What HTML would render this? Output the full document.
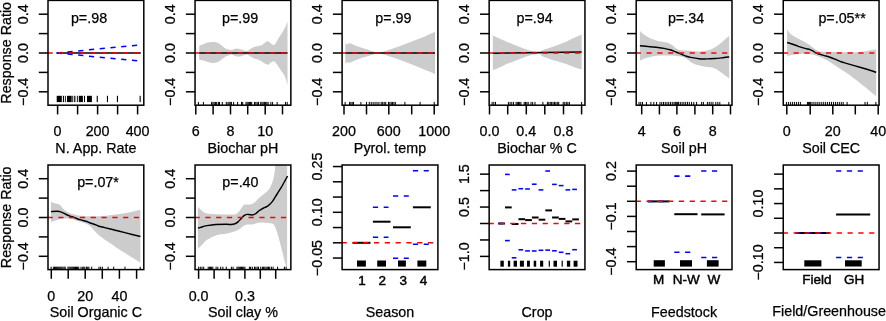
<!DOCTYPE html>
<html><head><meta charset="utf-8"><style>
html,body{margin:0;padding:0;background:#fff;overflow:hidden}
svg{display:block}
text{font-family:"Liberation Sans",sans-serif;fill:#000;stroke:#000;stroke-width:0.25px}
</style></head><body>
<svg width="886" height="321" viewBox="0 0 886 321" style="will-change:transform">
<rect width="886" height="321" fill="#fff"/>
<line x1="38.8" y1="14.2" x2="48" y2="14.2" stroke="#000" stroke-width="1.5" stroke-linecap="butt"/>
<line x1="38.8" y1="33.6" x2="48" y2="33.6" stroke="#000" stroke-width="1.5" stroke-linecap="butt"/>
<line x1="38.8" y1="53" x2="48" y2="53" stroke="#000" stroke-width="1.5" stroke-linecap="butt"/>
<line x1="38.8" y1="72.4" x2="48" y2="72.4" stroke="#000" stroke-width="1.5" stroke-linecap="butt"/>
<line x1="38.8" y1="91.8" x2="48" y2="91.8" stroke="#000" stroke-width="1.5" stroke-linecap="butt"/>
<text transform="translate(28.2,14.2) rotate(-90)" text-anchor="middle" font-size="14.3">0.4</text>
<text transform="translate(28.2,53) rotate(-90)" text-anchor="middle" font-size="14.3">0.0</text>
<text transform="translate(28.2,91.8) rotate(-90)" text-anchor="middle" font-size="14.3">−0.4</text>
<line x1="57.6" y1="105.2" x2="57.6" y2="114.4" stroke="#000" stroke-width="1.5" stroke-linecap="butt"/>
<line x1="77.6" y1="105.2" x2="77.6" y2="114.4" stroke="#000" stroke-width="1.5" stroke-linecap="butt"/>
<line x1="97.6" y1="105.2" x2="97.6" y2="114.4" stroke="#000" stroke-width="1.5" stroke-linecap="butt"/>
<line x1="117.6" y1="105.2" x2="117.6" y2="114.4" stroke="#000" stroke-width="1.5" stroke-linecap="butt"/>
<line x1="137.6" y1="105.2" x2="137.6" y2="114.4" stroke="#000" stroke-width="1.5" stroke-linecap="butt"/>
<text x="57.6" y="136.1" text-anchor="middle" font-size="14.3">0</text>
<text x="97.6" y="136.1" text-anchor="middle" font-size="14.3">200</text>
<text x="137.6" y="136.1" text-anchor="middle" font-size="14.3">400</text>
<text x="95.9" y="153" text-anchor="middle" font-size="14.3">N. App. Rate</text>
<line x1="56.7" y1="53" x2="140.8" y2="53" stroke="#000" stroke-width="1.45" stroke-linecap="butt"/>
<line x1="56.7" y1="53" x2="140.8" y2="44.8" stroke="#0000ff" stroke-width="1.5" stroke-linecap="butt" stroke-dasharray="5.2 5.6"/>
<line x1="56.7" y1="53" x2="140.8" y2="61.2" stroke="#0000ff" stroke-width="1.5" stroke-linecap="butt" stroke-dasharray="5.2 5.6"/>
<rect x="56.7" y="95.8" width="5.1" height="6.3" fill="#000"/>
<rect x="62.9" y="95.8" width="1.1" height="6.3" fill="#000"/>
<rect x="64.9" y="95.8" width="0.9" height="6.3" fill="#000"/>
<rect x="67" y="95.8" width="4.7" height="6.3" fill="#000"/>
<rect x="72.3" y="95.8" width="0.9" height="6.3" fill="#000"/>
<rect x="74.2" y="95.8" width="1.2" height="6.3" fill="#000"/>
<rect x="76.9" y="95.8" width="0.9" height="6.3" fill="#000"/>
<rect x="78.8" y="95.8" width="4.1" height="6.3" fill="#000"/>
<rect x="84" y="95.8" width="1" height="6.3" fill="#000"/>
<rect x="87" y="95.8" width="4.9" height="6.3" fill="#000"/>
<rect x="96.7" y="95.8" width="1.1" height="6.3" fill="#000"/>
<rect x="106.9" y="95.8" width="1.1" height="6.3" fill="#000"/>
<rect x="116.9" y="95.8" width="1.1" height="6.3" fill="#000"/>
<rect x="139.6" y="95.8" width="1.1" height="6.3" fill="#000"/>
<line x1="47.5" y1="53" x2="143.8" y2="53" stroke="#ff0000" stroke-width="1.6" stroke-linecap="butt" stroke-dasharray="5.2 5.6"/>
<text x="89" y="22.7" text-anchor="middle" font-size="14.3">p=.98</text>
<rect x="48" y="0.4" width="95.8" height="104.8" fill="none" stroke="#000" stroke-width="1.5"/>
<path d="M199.2,45.7 C199.83,45.45 201.7,44.7 203,44.2 C204.3,43.7 205.5,43.07 207,42.7 C208.5,42.33 210.5,42.07 212,42 C213.5,41.93 214.83,42.05 216,42.3 C217.17,42.55 218,42.93 219,43.5 C220,44.07 221,44.92 222,45.7 C223,46.48 224,47.55 225,48.2 C226,48.85 227,49.28 228,49.6 C229,49.92 230,50.15 231,50.1 C232,50.05 233.08,49.57 234,49.3 C234.92,49.03 235.67,48.57 236.5,48.5 C237.33,48.43 238.18,48.72 239,48.9 C239.82,49.08 240.57,49.33 241.4,49.6 C242.23,49.87 243.05,50.27 244,50.5 C244.95,50.73 246.05,51.27 247.1,51 C248.15,50.73 249.22,49.52 250.3,48.9 C251.38,48.28 252.65,47.68 253.6,47.3 C254.55,46.92 255.1,46.87 256,46.6 C256.9,46.33 258,45.97 259,45.7 C260,45.43 261.17,45.37 262,45 C262.83,44.63 263.33,44.05 264,43.5 C264.67,42.95 265.33,42.08 266,41.7 C266.67,41.32 267.33,41.03 268,41.2 C268.67,41.37 269.27,42.13 270,42.7 C270.73,43.27 271.73,44.22 272.4,44.6 C273.07,44.98 273.4,45.32 274,45 C274.6,44.68 275.33,43.7 276,42.7 C276.67,41.7 277.33,40.12 278,39 C278.67,37.88 279.33,37 280,36 C280.67,35 281.33,34.08 282,33 C282.67,31.92 283.33,30.75 284,29.5 C284.67,28.25 285.42,26.83 286,25.5 C286.58,24.17 287.25,22.17 287.5,21.5 L287.5,85.5 C287.25,84.5 286.58,81.28 286,79.5 C285.42,77.72 284.83,76.32 284,74.8 C283.17,73.28 282,71.88 281,70.4 C280,68.92 279,67.28 278,65.9 C277,64.52 275.83,62.85 275,62.1 C274.17,61.35 273.83,61.22 273,61.4 C272.17,61.58 270.83,62.65 270,63.2 C269.17,63.75 268.67,64.55 268,64.7 C267.33,64.85 267,64.65 266,64.1 C265,63.55 263.17,62.1 262,61.4 C260.83,60.7 260,60.28 259,59.9 C258,59.52 256.9,59.38 256,59.1 C255.1,58.82 254.55,58.62 253.6,58.2 C252.65,57.78 251.38,57.2 250.3,56.6 C249.22,56 248.15,54.82 247.1,54.6 C246.05,54.38 244.95,55.03 244,55.3 C243.05,55.57 242.23,56 241.4,56.2 C240.57,56.4 239.82,56.43 239,56.5 C238.18,56.57 237.33,56.75 236.5,56.6 C235.67,56.45 234.92,55.93 234,55.6 C233.08,55.27 232,54.57 231,54.6 C230,54.63 229,55.42 228,55.8 C227,56.18 226,56.35 225,56.9 C224,57.45 223,58.35 222,59.1 C221,59.85 220,60.82 219,61.4 C218,61.98 217.17,62.35 216,62.6 C214.83,62.85 213.5,63.03 212,62.9 C210.5,62.77 208.5,62.18 207,61.8 C205.5,61.42 204.3,60.97 203,60.6 C201.7,60.23 199.83,59.77 199.2,59.6 Z" fill="#cccccc"/>
<line x1="185.85" y1="14.2" x2="195.05" y2="14.2" stroke="#000" stroke-width="1.5" stroke-linecap="butt"/>
<line x1="185.85" y1="33.6" x2="195.05" y2="33.6" stroke="#000" stroke-width="1.5" stroke-linecap="butt"/>
<line x1="185.85" y1="53" x2="195.05" y2="53" stroke="#000" stroke-width="1.5" stroke-linecap="butt"/>
<line x1="185.85" y1="72.4" x2="195.05" y2="72.4" stroke="#000" stroke-width="1.5" stroke-linecap="butt"/>
<line x1="185.85" y1="91.8" x2="195.05" y2="91.8" stroke="#000" stroke-width="1.5" stroke-linecap="butt"/>
<text transform="translate(175.25,14.2) rotate(-90)" text-anchor="middle" font-size="14.3">0.4</text>
<text transform="translate(175.25,53) rotate(-90)" text-anchor="middle" font-size="14.3">0.0</text>
<text transform="translate(175.25,91.8) rotate(-90)" text-anchor="middle" font-size="14.3">−0.4</text>
<line x1="195.8" y1="105.2" x2="195.8" y2="114.4" stroke="#000" stroke-width="1.5" stroke-linecap="butt"/>
<line x1="213.1" y1="105.2" x2="213.1" y2="114.4" stroke="#000" stroke-width="1.5" stroke-linecap="butt"/>
<line x1="230.5" y1="105.2" x2="230.5" y2="114.4" stroke="#000" stroke-width="1.5" stroke-linecap="butt"/>
<line x1="247.7" y1="105.2" x2="247.7" y2="114.4" stroke="#000" stroke-width="1.5" stroke-linecap="butt"/>
<line x1="265.2" y1="105.2" x2="265.2" y2="114.4" stroke="#000" stroke-width="1.5" stroke-linecap="butt"/>
<line x1="282.5" y1="105.2" x2="282.5" y2="114.4" stroke="#000" stroke-width="1.5" stroke-linecap="butt"/>
<text x="195.8" y="136.1" text-anchor="middle" font-size="14.3">6</text>
<text x="230.5" y="136.1" text-anchor="middle" font-size="14.3">8</text>
<text x="265.2" y="136.1" text-anchor="middle" font-size="14.3">10</text>
<text x="242.95" y="153" text-anchor="middle" font-size="14.3">Biochar pH</text>
<line x1="199.2" y1="53" x2="287.5" y2="53" stroke="#000" stroke-width="1.45" stroke-linecap="butt"/>
<line x1="198.4" y1="101.9" x2="198.4" y2="105.2" stroke="#000" stroke-width="1.0" stroke-linecap="butt"/>
<line x1="203.4" y1="101.9" x2="203.4" y2="105.2" stroke="#000" stroke-width="1.0" stroke-linecap="butt"/>
<line x1="211.6" y1="101.9" x2="211.6" y2="105.2" stroke="#000" stroke-width="1.0" stroke-linecap="butt"/>
<line x1="212.88" y1="101.9" x2="212.88" y2="105.2" stroke="#000" stroke-width="1.0" stroke-linecap="butt"/>
<line x1="214.15" y1="101.9" x2="214.15" y2="105.2" stroke="#000" stroke-width="1.0" stroke-linecap="butt"/>
<line x1="215.42" y1="101.9" x2="215.42" y2="105.2" stroke="#000" stroke-width="1.0" stroke-linecap="butt"/>
<line x1="216.7" y1="101.9" x2="216.7" y2="105.2" stroke="#000" stroke-width="1.0" stroke-linecap="butt"/>
<line x1="218.4" y1="101.9" x2="218.4" y2="105.2" stroke="#000" stroke-width="1.0" stroke-linecap="butt"/>
<line x1="219.5" y1="101.9" x2="219.5" y2="105.2" stroke="#000" stroke-width="1.0" stroke-linecap="butt"/>
<line x1="222.3" y1="101.9" x2="222.3" y2="105.2" stroke="#000" stroke-width="1.0" stroke-linecap="butt"/>
<line x1="226.3" y1="101.9" x2="226.3" y2="105.2" stroke="#000" stroke-width="1.0" stroke-linecap="butt"/>
<line x1="228" y1="101.9" x2="228" y2="105.2" stroke="#000" stroke-width="1.0" stroke-linecap="butt"/>
<line x1="229.13" y1="101.9" x2="229.13" y2="105.2" stroke="#000" stroke-width="1.0" stroke-linecap="butt"/>
<line x1="230.27" y1="101.9" x2="230.27" y2="105.2" stroke="#000" stroke-width="1.0" stroke-linecap="butt"/>
<line x1="231.4" y1="101.9" x2="231.4" y2="105.2" stroke="#000" stroke-width="1.0" stroke-linecap="butt"/>
<line x1="233.6" y1="101.9" x2="233.6" y2="105.2" stroke="#000" stroke-width="1.0" stroke-linecap="butt"/>
<line x1="237.6" y1="101.9" x2="237.6" y2="105.2" stroke="#000" stroke-width="1.0" stroke-linecap="butt"/>
<line x1="241.5" y1="101.9" x2="241.5" y2="105.2" stroke="#000" stroke-width="1.0" stroke-linecap="butt"/>
<line x1="242.7" y1="101.9" x2="242.7" y2="105.2" stroke="#000" stroke-width="1.0" stroke-linecap="butt"/>
<line x1="246" y1="101.9" x2="246" y2="105.2" stroke="#000" stroke-width="1.0" stroke-linecap="butt"/>
<line x1="247.14" y1="101.9" x2="247.14" y2="105.2" stroke="#000" stroke-width="1.0" stroke-linecap="butt"/>
<line x1="248.28" y1="101.9" x2="248.28" y2="105.2" stroke="#000" stroke-width="1.0" stroke-linecap="butt"/>
<line x1="249.42" y1="101.9" x2="249.42" y2="105.2" stroke="#000" stroke-width="1.0" stroke-linecap="butt"/>
<line x1="250.56" y1="101.9" x2="250.56" y2="105.2" stroke="#000" stroke-width="1.0" stroke-linecap="butt"/>
<line x1="251.7" y1="101.9" x2="251.7" y2="105.2" stroke="#000" stroke-width="1.0" stroke-linecap="butt"/>
<line x1="254.5" y1="101.9" x2="254.5" y2="105.2" stroke="#000" stroke-width="1.0" stroke-linecap="butt"/>
<line x1="255.83" y1="101.9" x2="255.83" y2="105.2" stroke="#000" stroke-width="1.0" stroke-linecap="butt"/>
<line x1="257.17" y1="101.9" x2="257.17" y2="105.2" stroke="#000" stroke-width="1.0" stroke-linecap="butt"/>
<line x1="258.5" y1="101.9" x2="258.5" y2="105.2" stroke="#000" stroke-width="1.0" stroke-linecap="butt"/>
<line x1="260.7" y1="101.9" x2="260.7" y2="105.2" stroke="#000" stroke-width="1.0" stroke-linecap="butt"/>
<line x1="261.93" y1="101.9" x2="261.93" y2="105.2" stroke="#000" stroke-width="1.0" stroke-linecap="butt"/>
<line x1="263.17" y1="101.9" x2="263.17" y2="105.2" stroke="#000" stroke-width="1.0" stroke-linecap="butt"/>
<line x1="264.4" y1="101.9" x2="264.4" y2="105.2" stroke="#000" stroke-width="1.0" stroke-linecap="butt"/>
<line x1="265.63" y1="101.9" x2="265.63" y2="105.2" stroke="#000" stroke-width="1.0" stroke-linecap="butt"/>
<line x1="266.87" y1="101.9" x2="266.87" y2="105.2" stroke="#000" stroke-width="1.0" stroke-linecap="butt"/>
<line x1="268.1" y1="101.9" x2="268.1" y2="105.2" stroke="#000" stroke-width="1.0" stroke-linecap="butt"/>
<line x1="270.9" y1="101.9" x2="270.9" y2="105.2" stroke="#000" stroke-width="1.0" stroke-linecap="butt"/>
<line x1="272.6" y1="101.9" x2="272.6" y2="105.2" stroke="#000" stroke-width="1.0" stroke-linecap="butt"/>
<line x1="277.1" y1="101.9" x2="277.1" y2="105.2" stroke="#000" stroke-width="1.0" stroke-linecap="butt"/>
<line x1="285.5" y1="101.9" x2="285.5" y2="105.2" stroke="#000" stroke-width="1.0" stroke-linecap="butt"/>
<line x1="287.2" y1="101.9" x2="287.2" y2="105.2" stroke="#000" stroke-width="1.0" stroke-linecap="butt"/>
<line x1="194.55" y1="53" x2="290.85" y2="53" stroke="#ff0000" stroke-width="1.6" stroke-linecap="butt" stroke-dasharray="5.2 5.6"/>
<text x="240.05" y="22.7" text-anchor="middle" font-size="14.3">p=.99</text>
<rect x="195.05" y="0.4" width="95.8" height="104.8" fill="none" stroke="#000" stroke-width="1.5"/>
<path d="M345.3,41.9 C345.53,42.33 345.95,44.27 346.7,44.5 C347.45,44.73 348.42,43.15 349.8,43.3 C351.18,43.45 352.97,44.65 355,45.4 C357.03,46.15 359.5,46.97 362,47.8 C364.5,48.63 367.67,49.67 370,50.4 C372.33,51.13 374.53,51.82 376,52.2 C377.47,52.58 377.8,52.72 378.8,52.7 C379.8,52.68 380.13,52.62 382,52.1 C383.87,51.58 387,50.62 390,49.6 C393,48.58 396.67,47.22 400,46 C403.33,44.78 406.67,43.58 410,42.3 C413.33,41.02 417,39.53 420,38.3 C423,37.07 425.5,36 428,34.9 C430.5,33.8 433.83,32.23 435,31.7 L435,74.2 C433.83,73.68 430.5,72.18 428,71.1 C425.5,70.02 423,68.93 420,67.7 C417,66.47 413.33,64.98 410,63.7 C406.67,62.42 403.33,61.2 400,60 C396.67,58.8 393,57.52 390,56.5 C387,55.48 383.87,54.45 382,53.9 C380.13,53.35 379.8,53.23 378.8,53.2 C377.8,53.17 377.47,53.33 376,53.7 C374.53,54.07 372.33,54.72 370,55.4 C367.67,56.08 364.5,56.93 362,57.8 C359.5,58.67 357.03,59.77 355,60.6 C352.97,61.43 351.18,62.53 349.8,62.8 C348.42,63.07 347.45,61.93 346.7,62.2 C345.95,62.47 345.53,64.03 345.3,64.4 Z" fill="#cccccc"/>
<line x1="332.9" y1="14.2" x2="342.1" y2="14.2" stroke="#000" stroke-width="1.5" stroke-linecap="butt"/>
<line x1="332.9" y1="33.6" x2="342.1" y2="33.6" stroke="#000" stroke-width="1.5" stroke-linecap="butt"/>
<line x1="332.9" y1="53" x2="342.1" y2="53" stroke="#000" stroke-width="1.5" stroke-linecap="butt"/>
<line x1="332.9" y1="72.4" x2="342.1" y2="72.4" stroke="#000" stroke-width="1.5" stroke-linecap="butt"/>
<line x1="332.9" y1="91.8" x2="342.1" y2="91.8" stroke="#000" stroke-width="1.5" stroke-linecap="butt"/>
<text transform="translate(322.3,14.2) rotate(-90)" text-anchor="middle" font-size="14.3">0.4</text>
<text transform="translate(322.3,53) rotate(-90)" text-anchor="middle" font-size="14.3">0.0</text>
<text transform="translate(322.3,91.8) rotate(-90)" text-anchor="middle" font-size="14.3">−0.4</text>
<line x1="344" y1="105.2" x2="344" y2="114.4" stroke="#000" stroke-width="1.5" stroke-linecap="butt"/>
<line x1="366.5" y1="105.2" x2="366.5" y2="114.4" stroke="#000" stroke-width="1.5" stroke-linecap="butt"/>
<line x1="388.8" y1="105.2" x2="388.8" y2="114.4" stroke="#000" stroke-width="1.5" stroke-linecap="butt"/>
<line x1="411.7" y1="105.2" x2="411.7" y2="114.4" stroke="#000" stroke-width="1.5" stroke-linecap="butt"/>
<line x1="434.2" y1="105.2" x2="434.2" y2="114.4" stroke="#000" stroke-width="1.5" stroke-linecap="butt"/>
<text x="344" y="136.1" text-anchor="middle" font-size="14.3">200</text>
<text x="388.8" y="136.1" text-anchor="middle" font-size="14.3">600</text>
<text x="434.2" y="136.1" text-anchor="middle" font-size="14.3">1000</text>
<text x="390" y="153" text-anchor="middle" font-size="14.3">Pyrol. temp</text>
<line x1="345.4" y1="53" x2="435" y2="53" stroke="#000" stroke-width="1.45" stroke-linecap="butt"/>
<line x1="345.1" y1="101.9" x2="345.1" y2="105.2" stroke="#000" stroke-width="1.0" stroke-linecap="butt"/>
<line x1="349.6" y1="101.9" x2="349.6" y2="105.2" stroke="#000" stroke-width="1.0" stroke-linecap="butt"/>
<line x1="350.9" y1="101.9" x2="350.9" y2="105.2" stroke="#000" stroke-width="1.0" stroke-linecap="butt"/>
<line x1="352.2" y1="101.9" x2="352.2" y2="105.2" stroke="#000" stroke-width="1.0" stroke-linecap="butt"/>
<line x1="353.5" y1="101.9" x2="353.5" y2="105.2" stroke="#000" stroke-width="1.0" stroke-linecap="butt"/>
<line x1="360.9" y1="101.9" x2="360.9" y2="105.2" stroke="#000" stroke-width="1.0" stroke-linecap="butt"/>
<line x1="366.5" y1="101.9" x2="366.5" y2="105.2" stroke="#000" stroke-width="1.0" stroke-linecap="butt"/>
<line x1="369.3" y1="101.9" x2="369.3" y2="105.2" stroke="#000" stroke-width="1.0" stroke-linecap="butt"/>
<line x1="371.22" y1="101.9" x2="371.22" y2="105.2" stroke="#000" stroke-width="1.0" stroke-linecap="butt"/>
<line x1="373.14" y1="101.9" x2="373.14" y2="105.2" stroke="#000" stroke-width="1.0" stroke-linecap="butt"/>
<line x1="375.06" y1="101.9" x2="375.06" y2="105.2" stroke="#000" stroke-width="1.0" stroke-linecap="butt"/>
<line x1="376.98" y1="101.9" x2="376.98" y2="105.2" stroke="#000" stroke-width="1.0" stroke-linecap="butt"/>
<line x1="378.9" y1="101.9" x2="378.9" y2="105.2" stroke="#000" stroke-width="1.0" stroke-linecap="butt"/>
<line x1="381.2" y1="101.9" x2="381.2" y2="105.2" stroke="#000" stroke-width="1.0" stroke-linecap="butt"/>
<line x1="382.7" y1="101.9" x2="382.7" y2="105.2" stroke="#000" stroke-width="1.0" stroke-linecap="butt"/>
<line x1="384.2" y1="101.9" x2="384.2" y2="105.2" stroke="#000" stroke-width="1.0" stroke-linecap="butt"/>
<line x1="385.7" y1="101.9" x2="385.7" y2="105.2" stroke="#000" stroke-width="1.0" stroke-linecap="butt"/>
<line x1="388.5" y1="101.9" x2="388.5" y2="105.2" stroke="#000" stroke-width="1.0" stroke-linecap="butt"/>
<line x1="389.86" y1="101.9" x2="389.86" y2="105.2" stroke="#000" stroke-width="1.0" stroke-linecap="butt"/>
<line x1="391.22" y1="101.9" x2="391.22" y2="105.2" stroke="#000" stroke-width="1.0" stroke-linecap="butt"/>
<line x1="392.58" y1="101.9" x2="392.58" y2="105.2" stroke="#000" stroke-width="1.0" stroke-linecap="butt"/>
<line x1="393.94" y1="101.9" x2="393.94" y2="105.2" stroke="#000" stroke-width="1.0" stroke-linecap="butt"/>
<line x1="395.3" y1="101.9" x2="395.3" y2="105.2" stroke="#000" stroke-width="1.0" stroke-linecap="butt"/>
<line x1="404.9" y1="101.9" x2="404.9" y2="105.2" stroke="#000" stroke-width="1.0" stroke-linecap="butt"/>
<line x1="420.1" y1="101.9" x2="420.1" y2="105.2" stroke="#000" stroke-width="1.0" stroke-linecap="butt"/>
<line x1="434.2" y1="101.9" x2="434.2" y2="105.2" stroke="#000" stroke-width="1.0" stroke-linecap="butt"/>
<line x1="341.6" y1="53" x2="437.9" y2="53" stroke="#ff0000" stroke-width="1.6" stroke-linecap="butt" stroke-dasharray="5.2 5.6"/>
<text x="393.45" y="22.7" text-anchor="middle" font-size="14.3">p=.99</text>
<rect x="342.1" y="0.4" width="95.8" height="104.8" fill="none" stroke="#000" stroke-width="1.5"/>
<path d="M492.8,35.5 C493.63,35.87 495.67,36.75 497.8,37.7 C499.93,38.65 503,40.08 505.6,41.2 C508.2,42.32 510.8,43.35 513.4,44.4 C516,45.45 518.62,46.52 521.2,47.5 C523.78,48.48 526.32,49.6 528.9,50.3 C531.48,51 534.85,51.42 536.7,51.7 C538.55,51.98 538.98,52.28 540,52 C541.02,51.72 541.03,50.75 542.8,50 C544.57,49.25 548,48.37 550.6,47.5 C553.2,46.63 555.8,45.77 558.4,44.8 C561,43.83 563.62,42.82 566.2,41.7 C568.78,40.58 571.32,39.3 573.9,38.1 C576.48,36.9 580.4,35.1 581.7,34.5 L581.7,69.3 C580.4,68.9 576.48,67.77 573.9,66.9 C571.32,66.03 568.78,65 566.2,64.1 C563.62,63.2 561,62.32 558.4,61.5 C555.8,60.68 553.2,60.02 550.6,59.2 C548,58.38 544.57,57.47 542.8,56.6 C541.03,55.73 541.02,54.4 540,54 C538.98,53.6 538.55,53.92 536.7,54.2 C534.85,54.48 531.48,55 528.9,55.7 C526.32,56.4 523.78,57.43 521.2,58.4 C518.62,59.37 516,60.47 513.4,61.5 C510.8,62.53 508.2,63.48 505.6,64.6 C503,65.72 499.93,67.28 497.8,68.2 C495.67,69.12 493.63,69.78 492.8,70.1 Z" fill="#cccccc"/>
<line x1="479.95" y1="14.2" x2="489.15" y2="14.2" stroke="#000" stroke-width="1.5" stroke-linecap="butt"/>
<line x1="479.95" y1="33.6" x2="489.15" y2="33.6" stroke="#000" stroke-width="1.5" stroke-linecap="butt"/>
<line x1="479.95" y1="53" x2="489.15" y2="53" stroke="#000" stroke-width="1.5" stroke-linecap="butt"/>
<line x1="479.95" y1="72.4" x2="489.15" y2="72.4" stroke="#000" stroke-width="1.5" stroke-linecap="butt"/>
<line x1="479.95" y1="91.8" x2="489.15" y2="91.8" stroke="#000" stroke-width="1.5" stroke-linecap="butt"/>
<text transform="translate(469.35,14.2) rotate(-90)" text-anchor="middle" font-size="14.3">0.4</text>
<text transform="translate(469.35,53) rotate(-90)" text-anchor="middle" font-size="14.3">0.0</text>
<text transform="translate(469.35,91.8) rotate(-90)" text-anchor="middle" font-size="14.3">−0.4</text>
<line x1="489.5" y1="105.2" x2="489.5" y2="114.4" stroke="#000" stroke-width="1.5" stroke-linecap="butt"/>
<line x1="507.7" y1="105.2" x2="507.7" y2="114.4" stroke="#000" stroke-width="1.5" stroke-linecap="butt"/>
<line x1="526.3" y1="105.2" x2="526.3" y2="114.4" stroke="#000" stroke-width="1.5" stroke-linecap="butt"/>
<line x1="544.8" y1="105.2" x2="544.8" y2="114.4" stroke="#000" stroke-width="1.5" stroke-linecap="butt"/>
<line x1="563.5" y1="105.2" x2="563.5" y2="114.4" stroke="#000" stroke-width="1.5" stroke-linecap="butt"/>
<line x1="581.6" y1="105.2" x2="581.6" y2="114.4" stroke="#000" stroke-width="1.5" stroke-linecap="butt"/>
<text x="489.5" y="136.1" text-anchor="middle" font-size="14.3">0.0</text>
<text x="526.3" y="136.1" text-anchor="middle" font-size="14.3">0.4</text>
<text x="563.5" y="136.1" text-anchor="middle" font-size="14.3">0.8</text>
<text x="537.05" y="153" text-anchor="middle" font-size="14.3">Biochar % C</text>
<line x1="492.8" y1="53.2" x2="581.7" y2="52" stroke="#000" stroke-width="1.45" stroke-linecap="butt"/>
<line x1="492.1" y1="101.9" x2="492.1" y2="105.2" stroke="#000" stroke-width="1.0" stroke-linecap="butt"/>
<line x1="493.8" y1="101.9" x2="493.8" y2="105.2" stroke="#000" stroke-width="1.0" stroke-linecap="butt"/>
<line x1="495.5" y1="101.9" x2="495.5" y2="105.2" stroke="#000" stroke-width="1.0" stroke-linecap="butt"/>
<line x1="508.4" y1="101.9" x2="508.4" y2="105.2" stroke="#000" stroke-width="1.0" stroke-linecap="butt"/>
<line x1="510.1" y1="101.9" x2="510.1" y2="105.2" stroke="#000" stroke-width="1.0" stroke-linecap="butt"/>
<line x1="511.8" y1="101.9" x2="511.8" y2="105.2" stroke="#000" stroke-width="1.0" stroke-linecap="butt"/>
<line x1="513.5" y1="101.9" x2="513.5" y2="105.2" stroke="#000" stroke-width="1.0" stroke-linecap="butt"/>
<line x1="516.1" y1="101.9" x2="516.1" y2="105.2" stroke="#000" stroke-width="1.0" stroke-linecap="butt"/>
<line x1="517.3" y1="101.9" x2="517.3" y2="105.2" stroke="#000" stroke-width="1.0" stroke-linecap="butt"/>
<line x1="518.5" y1="101.9" x2="518.5" y2="105.2" stroke="#000" stroke-width="1.0" stroke-linecap="butt"/>
<line x1="519.7" y1="101.9" x2="519.7" y2="105.2" stroke="#000" stroke-width="1.0" stroke-linecap="butt"/>
<line x1="520.9" y1="101.9" x2="520.9" y2="105.2" stroke="#000" stroke-width="1.0" stroke-linecap="butt"/>
<line x1="524.2" y1="101.9" x2="524.2" y2="105.2" stroke="#000" stroke-width="1.0" stroke-linecap="butt"/>
<line x1="525.53" y1="101.9" x2="525.53" y2="105.2" stroke="#000" stroke-width="1.0" stroke-linecap="butt"/>
<line x1="526.87" y1="101.9" x2="526.87" y2="105.2" stroke="#000" stroke-width="1.0" stroke-linecap="butt"/>
<line x1="528.2" y1="101.9" x2="528.2" y2="105.2" stroke="#000" stroke-width="1.0" stroke-linecap="butt"/>
<line x1="531" y1="101.9" x2="531" y2="105.2" stroke="#000" stroke-width="1.0" stroke-linecap="butt"/>
<line x1="532.7" y1="101.9" x2="532.7" y2="105.2" stroke="#000" stroke-width="1.0" stroke-linecap="butt"/>
<line x1="535" y1="101.9" x2="535" y2="105.2" stroke="#000" stroke-width="1.0" stroke-linecap="butt"/>
<line x1="542.9" y1="101.9" x2="542.9" y2="105.2" stroke="#000" stroke-width="1.0" stroke-linecap="butt"/>
<line x1="547.4" y1="101.9" x2="547.4" y2="105.2" stroke="#000" stroke-width="1.0" stroke-linecap="butt"/>
<line x1="548.81" y1="101.9" x2="548.81" y2="105.2" stroke="#000" stroke-width="1.0" stroke-linecap="butt"/>
<line x1="550.23" y1="101.9" x2="550.23" y2="105.2" stroke="#000" stroke-width="1.0" stroke-linecap="butt"/>
<line x1="551.64" y1="101.9" x2="551.64" y2="105.2" stroke="#000" stroke-width="1.0" stroke-linecap="butt"/>
<line x1="553.05" y1="101.9" x2="553.05" y2="105.2" stroke="#000" stroke-width="1.0" stroke-linecap="butt"/>
<line x1="554.46" y1="101.9" x2="554.46" y2="105.2" stroke="#000" stroke-width="1.0" stroke-linecap="butt"/>
<line x1="555.88" y1="101.9" x2="555.88" y2="105.2" stroke="#000" stroke-width="1.0" stroke-linecap="butt"/>
<line x1="557.29" y1="101.9" x2="557.29" y2="105.2" stroke="#000" stroke-width="1.0" stroke-linecap="butt"/>
<line x1="558.7" y1="101.9" x2="558.7" y2="105.2" stroke="#000" stroke-width="1.0" stroke-linecap="butt"/>
<line x1="563.2" y1="101.9" x2="563.2" y2="105.2" stroke="#000" stroke-width="1.0" stroke-linecap="butt"/>
<line x1="564.75" y1="101.9" x2="564.75" y2="105.2" stroke="#000" stroke-width="1.0" stroke-linecap="butt"/>
<line x1="566.3" y1="101.9" x2="566.3" y2="105.2" stroke="#000" stroke-width="1.0" stroke-linecap="butt"/>
<line x1="567.85" y1="101.9" x2="567.85" y2="105.2" stroke="#000" stroke-width="1.0" stroke-linecap="butt"/>
<line x1="569.4" y1="101.9" x2="569.4" y2="105.2" stroke="#000" stroke-width="1.0" stroke-linecap="butt"/>
<line x1="581.6" y1="101.9" x2="581.6" y2="105.2" stroke="#000" stroke-width="1.0" stroke-linecap="butt"/>
<line x1="488.65" y1="53" x2="584.95" y2="53" stroke="#ff0000" stroke-width="1.6" stroke-linecap="butt" stroke-dasharray="5.2 5.6"/>
<text x="534.6" y="22.7" text-anchor="middle" font-size="14.3">p=.94</text>
<rect x="489.15" y="0.4" width="95.8" height="104.8" fill="none" stroke="#000" stroke-width="1.5"/>
<path d="M639.9,30.9 C640.65,31.55 642.72,33.57 644.4,34.8 C646.08,36.03 647.9,37.32 650,38.3 C652.1,39.28 654.67,40.07 657,40.7 C659.33,41.33 662.02,41.68 664,42.1 C665.98,42.52 667.5,42.67 668.9,43.2 C670.3,43.73 671.12,44.37 672.4,45.3 C673.68,46.23 675.2,47.98 676.6,48.8 C678,49.62 679.23,49.9 680.8,50.2 C682.37,50.5 683.92,50.43 686,50.6 C688.08,50.77 690.52,51.1 693.3,51.2 C696.08,51.3 699.58,51.58 702.7,51.2 C705.82,50.82 709.52,49.83 712,48.9 C714.48,47.97 715.72,46.93 717.6,45.6 C719.48,44.27 721.37,42.53 723.3,40.9 C725.23,39.27 728.22,36.65 729.2,35.8 L729.2,78.5 C728.22,77.75 725.23,75.43 723.3,74 C721.37,72.57 719.48,70.97 717.6,69.9 C715.72,68.83 714.48,68.2 712,67.6 C709.52,67 705.82,66.97 702.7,66.3 C699.58,65.63 696.08,64.9 693.3,63.6 C690.52,62.3 688.08,59.68 686,58.5 C683.92,57.32 683.07,57 680.8,56.5 C678.53,56 675.2,55.67 672.4,55.5 C669.6,55.33 666.57,55.45 664,55.5 C661.43,55.55 659.33,55.57 657,55.8 C654.67,56.03 652.1,56.43 650,56.9 C647.9,57.37 646.08,57.97 644.4,58.6 C642.72,59.23 640.65,60.35 639.9,60.7 Z" fill="#cccccc"/>
<line x1="627" y1="14.2" x2="636.2" y2="14.2" stroke="#000" stroke-width="1.5" stroke-linecap="butt"/>
<line x1="627" y1="33.6" x2="636.2" y2="33.6" stroke="#000" stroke-width="1.5" stroke-linecap="butt"/>
<line x1="627" y1="53" x2="636.2" y2="53" stroke="#000" stroke-width="1.5" stroke-linecap="butt"/>
<line x1="627" y1="72.4" x2="636.2" y2="72.4" stroke="#000" stroke-width="1.5" stroke-linecap="butt"/>
<line x1="627" y1="91.8" x2="636.2" y2="91.8" stroke="#000" stroke-width="1.5" stroke-linecap="butt"/>
<text transform="translate(616.4,14.2) rotate(-90)" text-anchor="middle" font-size="14.3">0.4</text>
<text transform="translate(616.4,53) rotate(-90)" text-anchor="middle" font-size="14.3">0.0</text>
<text transform="translate(616.4,91.8) rotate(-90)" text-anchor="middle" font-size="14.3">−0.4</text>
<line x1="641.7" y1="105.2" x2="641.7" y2="114.4" stroke="#000" stroke-width="1.5" stroke-linecap="butt"/>
<line x1="659.4" y1="105.2" x2="659.4" y2="114.4" stroke="#000" stroke-width="1.5" stroke-linecap="butt"/>
<line x1="676.9" y1="105.2" x2="676.9" y2="114.4" stroke="#000" stroke-width="1.5" stroke-linecap="butt"/>
<line x1="694.9" y1="105.2" x2="694.9" y2="114.4" stroke="#000" stroke-width="1.5" stroke-linecap="butt"/>
<line x1="712.7" y1="105.2" x2="712.7" y2="114.4" stroke="#000" stroke-width="1.5" stroke-linecap="butt"/>
<line x1="730.5" y1="105.2" x2="730.5" y2="114.4" stroke="#000" stroke-width="1.5" stroke-linecap="butt"/>
<text x="641.7" y="136.1" text-anchor="middle" font-size="14.3">4</text>
<text x="676.9" y="136.1" text-anchor="middle" font-size="14.3">6</text>
<text x="712.7" y="136.1" text-anchor="middle" font-size="14.3">8</text>
<text x="684.1" y="153" text-anchor="middle" font-size="14.3">Soil pH</text>
<path d="M639.9,45.7 C641.58,45.87 646.98,46.4 650,46.7 C653.02,47 655.67,47.22 658,47.5 C660.33,47.78 662,48.02 664,48.4 C666,48.78 668.25,49.3 670,49.8 C671.75,50.3 673.08,50.85 674.5,51.4 C675.92,51.95 677.15,52.53 678.5,53.1 C679.85,53.67 681.25,54.27 682.6,54.8 C683.95,55.33 685.25,55.87 686.6,56.3 C687.95,56.73 688.67,57 690.7,57.4 C692.73,57.8 696.1,58.45 698.8,58.7 C701.5,58.95 704.2,58.93 706.9,58.9 C709.6,58.87 712.3,58.7 715,58.5 C717.7,58.3 720.73,57.95 723.1,57.7 C725.47,57.45 728.18,57.12 729.2,57" fill="none" stroke="#000" stroke-width="1.45" stroke-linejoin="round"/>
<line x1="639" y1="101.9" x2="639" y2="105.2" stroke="#000" stroke-width="1.0" stroke-linecap="butt"/>
<line x1="640.75" y1="101.9" x2="640.75" y2="105.2" stroke="#000" stroke-width="1.0" stroke-linecap="butt"/>
<line x1="642.5" y1="101.9" x2="642.5" y2="105.2" stroke="#000" stroke-width="1.0" stroke-linecap="butt"/>
<line x1="646.4" y1="101.9" x2="646.4" y2="105.2" stroke="#000" stroke-width="1.0" stroke-linecap="butt"/>
<line x1="650.9" y1="101.9" x2="650.9" y2="105.2" stroke="#000" stroke-width="1.0" stroke-linecap="butt"/>
<line x1="653.8" y1="101.9" x2="653.8" y2="105.2" stroke="#000" stroke-width="1.0" stroke-linecap="butt"/>
<line x1="656.6" y1="101.9" x2="656.6" y2="105.2" stroke="#000" stroke-width="1.0" stroke-linecap="butt"/>
<line x1="660" y1="101.9" x2="660" y2="105.2" stroke="#000" stroke-width="1.0" stroke-linecap="butt"/>
<line x1="661.75" y1="101.9" x2="661.75" y2="105.2" stroke="#000" stroke-width="1.0" stroke-linecap="butt"/>
<line x1="663.5" y1="101.9" x2="663.5" y2="105.2" stroke="#000" stroke-width="1.0" stroke-linecap="butt"/>
<line x1="665.25" y1="101.9" x2="665.25" y2="105.2" stroke="#000" stroke-width="1.0" stroke-linecap="butt"/>
<line x1="667" y1="101.9" x2="667" y2="105.2" stroke="#000" stroke-width="1.0" stroke-linecap="butt"/>
<line x1="668.75" y1="101.9" x2="668.75" y2="105.2" stroke="#000" stroke-width="1.0" stroke-linecap="butt"/>
<line x1="670.5" y1="101.9" x2="670.5" y2="105.2" stroke="#000" stroke-width="1.0" stroke-linecap="butt"/>
<line x1="672.25" y1="101.9" x2="672.25" y2="105.2" stroke="#000" stroke-width="1.0" stroke-linecap="butt"/>
<line x1="674" y1="101.9" x2="674" y2="105.2" stroke="#000" stroke-width="1.0" stroke-linecap="butt"/>
<line x1="675.2" y1="101.9" x2="675.2" y2="105.2" stroke="#000" stroke-width="1.0" stroke-linecap="butt"/>
<line x1="676.05" y1="101.9" x2="676.05" y2="105.2" stroke="#000" stroke-width="1.0" stroke-linecap="butt"/>
<line x1="676.9" y1="101.9" x2="676.9" y2="105.2" stroke="#000" stroke-width="1.0" stroke-linecap="butt"/>
<line x1="677.75" y1="101.9" x2="677.75" y2="105.2" stroke="#000" stroke-width="1.0" stroke-linecap="butt"/>
<line x1="678.6" y1="101.9" x2="678.6" y2="105.2" stroke="#000" stroke-width="1.0" stroke-linecap="butt"/>
<line x1="680.3" y1="101.9" x2="680.3" y2="105.2" stroke="#000" stroke-width="1.0" stroke-linecap="butt"/>
<line x1="682.1" y1="101.9" x2="682.1" y2="105.2" stroke="#000" stroke-width="1.0" stroke-linecap="butt"/>
<line x1="683.9" y1="101.9" x2="683.9" y2="105.2" stroke="#000" stroke-width="1.0" stroke-linecap="butt"/>
<line x1="685.7" y1="101.9" x2="685.7" y2="105.2" stroke="#000" stroke-width="1.0" stroke-linecap="butt"/>
<line x1="687.5" y1="101.9" x2="687.5" y2="105.2" stroke="#000" stroke-width="1.0" stroke-linecap="butt"/>
<line x1="689.3" y1="101.9" x2="689.3" y2="105.2" stroke="#000" stroke-width="1.0" stroke-linecap="butt"/>
<line x1="691.6" y1="101.9" x2="691.6" y2="105.2" stroke="#000" stroke-width="1.0" stroke-linecap="butt"/>
<line x1="693.8" y1="101.9" x2="693.8" y2="105.2" stroke="#000" stroke-width="1.0" stroke-linecap="butt"/>
<line x1="696.6" y1="101.9" x2="696.6" y2="105.2" stroke="#000" stroke-width="1.0" stroke-linecap="butt"/>
<line x1="701.7" y1="101.9" x2="701.7" y2="105.2" stroke="#000" stroke-width="1.0" stroke-linecap="butt"/>
<line x1="703.4" y1="101.9" x2="703.4" y2="105.2" stroke="#000" stroke-width="1.0" stroke-linecap="butt"/>
<line x1="707.4" y1="101.9" x2="707.4" y2="105.2" stroke="#000" stroke-width="1.0" stroke-linecap="butt"/>
<line x1="709.27" y1="101.9" x2="709.27" y2="105.2" stroke="#000" stroke-width="1.0" stroke-linecap="butt"/>
<line x1="711.13" y1="101.9" x2="711.13" y2="105.2" stroke="#000" stroke-width="1.0" stroke-linecap="butt"/>
<line x1="713" y1="101.9" x2="713" y2="105.2" stroke="#000" stroke-width="1.0" stroke-linecap="butt"/>
<line x1="715.8" y1="101.9" x2="715.8" y2="105.2" stroke="#000" stroke-width="1.0" stroke-linecap="butt"/>
<line x1="717.8" y1="101.9" x2="717.8" y2="105.2" stroke="#000" stroke-width="1.0" stroke-linecap="butt"/>
<line x1="719.8" y1="101.9" x2="719.8" y2="105.2" stroke="#000" stroke-width="1.0" stroke-linecap="butt"/>
<line x1="728.8" y1="101.9" x2="728.8" y2="105.2" stroke="#000" stroke-width="1.0" stroke-linecap="butt"/>
<line x1="635.7" y1="53" x2="732" y2="53" stroke="#ff0000" stroke-width="1.6" stroke-linecap="butt" stroke-dasharray="5.2 5.6"/>
<text x="686" y="22.7" text-anchor="middle" font-size="14.3">p=.34</text>
<rect x="636.2" y="0.4" width="95.8" height="104.8" fill="none" stroke="#000" stroke-width="1.5"/>
<path d="M787.1,28.9 C787.45,29.52 788.33,31.55 789.2,32.6 C790.07,33.65 791,34.32 792.3,35.2 C793.6,36.08 795.22,36.93 797,37.9 C798.78,38.87 801.17,39.98 803,41 C804.83,42.02 806.33,42.92 808,44 C809.67,45.08 811.67,46.53 813,47.5 C814.33,48.47 815,49.17 816,49.8 C817,50.43 818,50.97 819,51.3 C820,51.63 820.17,51.68 822,51.8 C823.83,51.92 827,51.93 830,52 C833,52.07 836.67,52.15 840,52.2 C843.33,52.25 846.6,52.33 850,52.3 C853.4,52.27 856.98,52.35 860.4,52 C863.82,51.65 867.87,50.67 870.5,50.2 C873.13,49.73 875.25,49.37 876.2,49.2 L876.2,96.2 C875.13,95.33 871.93,92.73 869.8,91 C867.67,89.27 865.62,87.58 863.4,85.8 C861.18,84.02 858.78,82.12 856.5,80.3 C854.22,78.48 851.98,76.55 849.7,74.9 C847.42,73.25 845.08,71.88 842.8,70.4 C840.52,68.92 838.13,67.4 836,66 C833.87,64.6 831.83,63.13 830,62 C828.17,60.87 826.67,60.05 825,59.2 C823.33,58.35 821.67,57.57 820,56.9 C818.33,56.23 816.83,55.68 815,55.2 C813.17,54.72 811,54.23 809,54 C807,53.77 805,53.77 803,53.8 C801,53.83 798.83,54 797,54.2 C795.17,54.4 793.65,54.73 792,55 C790.35,55.27 787.92,55.67 787.1,55.8 Z" fill="#cccccc"/>
<line x1="774.05" y1="14.2" x2="783.25" y2="14.2" stroke="#000" stroke-width="1.5" stroke-linecap="butt"/>
<line x1="774.05" y1="33.6" x2="783.25" y2="33.6" stroke="#000" stroke-width="1.5" stroke-linecap="butt"/>
<line x1="774.05" y1="53" x2="783.25" y2="53" stroke="#000" stroke-width="1.5" stroke-linecap="butt"/>
<line x1="774.05" y1="72.4" x2="783.25" y2="72.4" stroke="#000" stroke-width="1.5" stroke-linecap="butt"/>
<line x1="774.05" y1="91.8" x2="783.25" y2="91.8" stroke="#000" stroke-width="1.5" stroke-linecap="butt"/>
<text transform="translate(763.45,14.2) rotate(-90)" text-anchor="middle" font-size="14.3">0.4</text>
<text transform="translate(763.45,53) rotate(-90)" text-anchor="middle" font-size="14.3">0.0</text>
<text transform="translate(763.45,91.8) rotate(-90)" text-anchor="middle" font-size="14.3">−0.4</text>
<line x1="786.8" y1="105.2" x2="786.8" y2="114.4" stroke="#000" stroke-width="1.5" stroke-linecap="butt"/>
<line x1="810.2" y1="105.2" x2="810.2" y2="114.4" stroke="#000" stroke-width="1.5" stroke-linecap="butt"/>
<line x1="832.8" y1="105.2" x2="832.8" y2="114.4" stroke="#000" stroke-width="1.5" stroke-linecap="butt"/>
<line x1="855.3" y1="105.2" x2="855.3" y2="114.4" stroke="#000" stroke-width="1.5" stroke-linecap="butt"/>
<line x1="878.2" y1="105.2" x2="878.2" y2="114.4" stroke="#000" stroke-width="1.5" stroke-linecap="butt"/>
<text x="786.8" y="136.1" text-anchor="middle" font-size="14.3">0</text>
<text x="832.8" y="136.1" text-anchor="middle" font-size="14.3">20</text>
<text x="878.2" y="136.1" text-anchor="middle" font-size="14.3">40</text>
<text x="831.15" y="153" text-anchor="middle" font-size="14.3">Soil CEC</text>
<path d="M787.1,42.5 C788.42,42.92 792.85,44.27 795,45 C797.15,45.73 798.33,46.33 800,46.9 C801.67,47.47 803.33,47.95 805,48.4 C806.67,48.85 808.75,49.22 810,49.6 C811.25,49.98 811.67,50.23 812.5,50.7 C813.33,51.17 814.08,51.88 815,52.4 C815.92,52.92 816.83,53.38 818,53.8 C819.17,54.22 820.67,54.53 822,54.9 C823.33,55.27 824.67,55.62 826,56 C827.33,56.38 828.5,56.67 830,57.2 C831.5,57.73 833.33,58.5 835,59.2 C836.67,59.9 837.5,60.53 840,61.4 C842.5,62.27 846.67,63.42 850,64.4 C853.33,65.38 856.67,66.32 860,67.3 C863.33,68.28 867.3,69.45 870,70.3 C872.7,71.15 875.17,72.05 876.2,72.4" fill="none" stroke="#000" stroke-width="1.45" stroke-linejoin="round"/>
<line x1="786.4" y1="101.9" x2="786.4" y2="105.2" stroke="#000" stroke-width="1.0" stroke-linecap="butt"/>
<line x1="788.4" y1="101.9" x2="788.4" y2="105.2" stroke="#000" stroke-width="1.0" stroke-linecap="butt"/>
<line x1="790.4" y1="101.9" x2="790.4" y2="105.2" stroke="#000" stroke-width="1.0" stroke-linecap="butt"/>
<line x1="792.4" y1="101.9" x2="792.4" y2="105.2" stroke="#000" stroke-width="1.0" stroke-linecap="butt"/>
<line x1="794.4" y1="101.9" x2="794.4" y2="105.2" stroke="#000" stroke-width="1.0" stroke-linecap="butt"/>
<line x1="796.4" y1="101.9" x2="796.4" y2="105.2" stroke="#000" stroke-width="1.0" stroke-linecap="butt"/>
<line x1="798.4" y1="101.9" x2="798.4" y2="105.2" stroke="#000" stroke-width="1.0" stroke-linecap="butt"/>
<line x1="800.4" y1="101.9" x2="800.4" y2="105.2" stroke="#000" stroke-width="1.0" stroke-linecap="butt"/>
<line x1="807.4" y1="101.9" x2="807.4" y2="105.2" stroke="#000" stroke-width="1.0" stroke-linecap="butt"/>
<line x1="808.4" y1="101.9" x2="808.4" y2="105.2" stroke="#000" stroke-width="1.0" stroke-linecap="butt"/>
<line x1="809.4" y1="101.9" x2="809.4" y2="105.2" stroke="#000" stroke-width="1.0" stroke-linecap="butt"/>
<line x1="810.4" y1="101.9" x2="810.4" y2="105.2" stroke="#000" stroke-width="1.0" stroke-linecap="butt"/>
<line x1="812" y1="101.9" x2="812" y2="105.2" stroke="#000" stroke-width="1.0" stroke-linecap="butt"/>
<line x1="813.95" y1="101.9" x2="813.95" y2="105.2" stroke="#000" stroke-width="1.0" stroke-linecap="butt"/>
<line x1="815.9" y1="101.9" x2="815.9" y2="105.2" stroke="#000" stroke-width="1.0" stroke-linecap="butt"/>
<line x1="817.85" y1="101.9" x2="817.85" y2="105.2" stroke="#000" stroke-width="1.0" stroke-linecap="butt"/>
<line x1="819.8" y1="101.9" x2="819.8" y2="105.2" stroke="#000" stroke-width="1.0" stroke-linecap="butt"/>
<line x1="821.75" y1="101.9" x2="821.75" y2="105.2" stroke="#000" stroke-width="1.0" stroke-linecap="butt"/>
<line x1="823.7" y1="101.9" x2="823.7" y2="105.2" stroke="#000" stroke-width="1.0" stroke-linecap="butt"/>
<line x1="825.65" y1="101.9" x2="825.65" y2="105.2" stroke="#000" stroke-width="1.0" stroke-linecap="butt"/>
<line x1="827.6" y1="101.9" x2="827.6" y2="105.2" stroke="#000" stroke-width="1.0" stroke-linecap="butt"/>
<line x1="829.55" y1="101.9" x2="829.55" y2="105.2" stroke="#000" stroke-width="1.0" stroke-linecap="butt"/>
<line x1="831.5" y1="101.9" x2="831.5" y2="105.2" stroke="#000" stroke-width="1.0" stroke-linecap="butt"/>
<line x1="833.45" y1="101.9" x2="833.45" y2="105.2" stroke="#000" stroke-width="1.0" stroke-linecap="butt"/>
<line x1="835.4" y1="101.9" x2="835.4" y2="105.2" stroke="#000" stroke-width="1.0" stroke-linecap="butt"/>
<line x1="837.35" y1="101.9" x2="837.35" y2="105.2" stroke="#000" stroke-width="1.0" stroke-linecap="butt"/>
<line x1="839.3" y1="101.9" x2="839.3" y2="105.2" stroke="#000" stroke-width="1.0" stroke-linecap="butt"/>
<line x1="841.25" y1="101.9" x2="841.25" y2="105.2" stroke="#000" stroke-width="1.0" stroke-linecap="butt"/>
<line x1="843.2" y1="101.9" x2="843.2" y2="105.2" stroke="#000" stroke-width="1.0" stroke-linecap="butt"/>
<line x1="847.1" y1="101.9" x2="847.1" y2="105.2" stroke="#000" stroke-width="1.0" stroke-linecap="butt"/>
<line x1="865" y1="101.9" x2="865" y2="105.2" stroke="#000" stroke-width="1.0" stroke-linecap="butt"/>
<line x1="867.3" y1="101.9" x2="867.3" y2="105.2" stroke="#000" stroke-width="1.0" stroke-linecap="butt"/>
<line x1="875.9" y1="101.9" x2="875.9" y2="105.2" stroke="#000" stroke-width="1.0" stroke-linecap="butt"/>
<line x1="782.75" y1="53" x2="879.05" y2="53" stroke="#ff0000" stroke-width="1.6" stroke-linecap="butt" stroke-dasharray="5.2 5.6"/>
<text x="842.05" y="22.7" text-anchor="middle" font-size="14.3">p=.05**</text>
<rect x="783.25" y="0.4" width="95.8" height="104.8" fill="none" stroke="#000" stroke-width="1.5"/>
<text transform="translate(10.8,52.8) rotate(-90)" text-anchor="middle" font-size="14.3">Response Ratio</text>
<path d="M51,201.9 C51.83,202.17 54.55,203.03 56,203.5 C57.45,203.97 58.67,204.03 59.7,204.7 C60.73,205.37 61.37,206.58 62.2,207.5 C63.03,208.42 63.67,209.37 64.7,210.2 C65.73,211.03 66.95,211.82 68.4,212.5 C69.85,213.18 71.73,213.78 73.4,214.3 C75.07,214.82 76.73,215.32 78.4,215.6 C80.07,215.88 81.53,215.88 83.4,216 C85.27,216.12 87.12,216.27 89.6,216.3 C92.08,216.33 95.4,216.3 98.3,216.2 C101.2,216.1 104.1,215.97 107,215.7 C109.9,215.43 112.8,215 115.7,214.6 C118.6,214.2 121.5,213.8 124.4,213.3 C127.3,212.8 130.43,212.18 133.1,211.6 C135.77,211.02 139.18,210.1 140.4,209.8 L140.4,262.8 C139.18,262.02 135.28,259.5 133.1,258.1 C130.92,256.7 129.82,255.95 127.3,254.4 C124.78,252.85 120.3,250.27 118,248.8 C115.7,247.33 115.05,246.68 113.5,245.6 C111.95,244.52 110.18,243.3 108.7,242.3 C107.22,241.3 106.17,240.72 104.6,239.6 C103.03,238.48 100.75,236.83 99.3,235.6 C97.85,234.37 97.52,233.83 95.9,232.2 C94.28,230.57 91.68,227.37 89.6,225.8 C87.52,224.23 85.67,223.67 83.4,222.8 C81.13,221.93 78.07,221.28 76,220.6 C73.93,219.92 72.88,219.05 71,218.7 C69.12,218.35 66.58,218.4 64.7,218.5 C62.82,218.6 61.15,218.95 59.7,219.3 C58.25,219.65 57.45,220.18 56,220.6 C54.55,221.02 51.83,221.6 51,221.8 Z" fill="#cccccc"/>
<line x1="38.8" y1="178.7" x2="48" y2="178.7" stroke="#000" stroke-width="1.5" stroke-linecap="butt"/>
<line x1="38.8" y1="198.1" x2="48" y2="198.1" stroke="#000" stroke-width="1.5" stroke-linecap="butt"/>
<line x1="38.8" y1="217.5" x2="48" y2="217.5" stroke="#000" stroke-width="1.5" stroke-linecap="butt"/>
<line x1="38.8" y1="236.9" x2="48" y2="236.9" stroke="#000" stroke-width="1.5" stroke-linecap="butt"/>
<line x1="38.8" y1="256.3" x2="48" y2="256.3" stroke="#000" stroke-width="1.5" stroke-linecap="butt"/>
<text transform="translate(28.2,178.7) rotate(-90)" text-anchor="middle" font-size="14.3">0.4</text>
<text transform="translate(28.2,217.5) rotate(-90)" text-anchor="middle" font-size="14.3">0.0</text>
<text transform="translate(28.2,256.3) rotate(-90)" text-anchor="middle" font-size="14.3">−0.4</text>
<line x1="51.3" y1="269.6" x2="51.3" y2="278.8" stroke="#000" stroke-width="1.5" stroke-linecap="butt"/>
<line x1="68.2" y1="269.6" x2="68.2" y2="278.8" stroke="#000" stroke-width="1.5" stroke-linecap="butt"/>
<line x1="85.2" y1="269.6" x2="85.2" y2="278.8" stroke="#000" stroke-width="1.5" stroke-linecap="butt"/>
<line x1="102.3" y1="269.6" x2="102.3" y2="278.8" stroke="#000" stroke-width="1.5" stroke-linecap="butt"/>
<line x1="119.4" y1="269.6" x2="119.4" y2="278.8" stroke="#000" stroke-width="1.5" stroke-linecap="butt"/>
<line x1="136.6" y1="269.6" x2="136.6" y2="278.8" stroke="#000" stroke-width="1.5" stroke-linecap="butt"/>
<text x="51.3" y="300.5" text-anchor="middle" font-size="14.3">0</text>
<text x="85.2" y="300.5" text-anchor="middle" font-size="14.3">20</text>
<text x="119.4" y="300.5" text-anchor="middle" font-size="14.3">40</text>
<text x="95.9" y="317.4" text-anchor="middle" font-size="14.3">Soil Organic C</text>
<path d="M51,211.6 C52.03,211.53 55.75,211.2 57.2,211.2 C58.65,211.2 58.65,211.28 59.7,211.6 C60.75,211.92 62.25,212.53 63.5,213.1 C64.75,213.67 65.75,214.38 67.2,215 C68.65,215.62 70.53,216.18 72.2,216.8 C73.87,217.42 75.75,218.18 77.2,218.7 C78.65,219.22 79.45,219.48 80.9,219.9 C82.35,220.32 84.45,220.73 85.9,221.2 C87.35,221.67 87.93,222.08 89.6,222.7 C91.27,223.32 94.45,224.35 95.9,224.9 C97.35,225.45 96.85,225.55 98.3,226 C99.75,226.45 101.78,226.9 104.6,227.6 C107.42,228.3 111.67,229.32 115.2,230.2 C118.73,231.08 121.6,231.85 125.8,232.9 C130,233.95 137.97,235.9 140.4,236.5" fill="none" stroke="#000" stroke-width="1.45" stroke-linejoin="round"/>
<line x1="51.1" y1="266.7" x2="51.1" y2="269.6" stroke="#000" stroke-width="1.0" stroke-linecap="butt"/>
<line x1="53.3" y1="266.7" x2="53.3" y2="269.6" stroke="#000" stroke-width="1.0" stroke-linecap="butt"/>
<line x1="54.5" y1="266.7" x2="54.5" y2="269.6" stroke="#000" stroke-width="1.0" stroke-linecap="butt"/>
<line x1="55.6" y1="266.7" x2="55.6" y2="269.6" stroke="#000" stroke-width="1.0" stroke-linecap="butt"/>
<line x1="56.64" y1="266.7" x2="56.64" y2="269.6" stroke="#000" stroke-width="1.0" stroke-linecap="butt"/>
<line x1="57.69" y1="266.7" x2="57.69" y2="269.6" stroke="#000" stroke-width="1.0" stroke-linecap="butt"/>
<line x1="58.73" y1="266.7" x2="58.73" y2="269.6" stroke="#000" stroke-width="1.0" stroke-linecap="butt"/>
<line x1="59.77" y1="266.7" x2="59.77" y2="269.6" stroke="#000" stroke-width="1.0" stroke-linecap="butt"/>
<line x1="60.81" y1="266.7" x2="60.81" y2="269.6" stroke="#000" stroke-width="1.0" stroke-linecap="butt"/>
<line x1="61.86" y1="266.7" x2="61.86" y2="269.6" stroke="#000" stroke-width="1.0" stroke-linecap="butt"/>
<line x1="62.9" y1="266.7" x2="62.9" y2="269.6" stroke="#000" stroke-width="1.0" stroke-linecap="butt"/>
<line x1="64.1" y1="266.7" x2="64.1" y2="269.6" stroke="#000" stroke-width="1.0" stroke-linecap="butt"/>
<line x1="65.2" y1="266.7" x2="65.2" y2="269.6" stroke="#000" stroke-width="1.0" stroke-linecap="butt"/>
<line x1="68" y1="266.7" x2="68" y2="269.6" stroke="#000" stroke-width="1.0" stroke-linecap="butt"/>
<line x1="69.07" y1="266.7" x2="69.07" y2="269.6" stroke="#000" stroke-width="1.0" stroke-linecap="butt"/>
<line x1="70.13" y1="266.7" x2="70.13" y2="269.6" stroke="#000" stroke-width="1.0" stroke-linecap="butt"/>
<line x1="71.2" y1="266.7" x2="71.2" y2="269.6" stroke="#000" stroke-width="1.0" stroke-linecap="butt"/>
<line x1="72.27" y1="266.7" x2="72.27" y2="269.6" stroke="#000" stroke-width="1.0" stroke-linecap="butt"/>
<line x1="73.33" y1="266.7" x2="73.33" y2="269.6" stroke="#000" stroke-width="1.0" stroke-linecap="butt"/>
<line x1="74.4" y1="266.7" x2="74.4" y2="269.6" stroke="#000" stroke-width="1.0" stroke-linecap="butt"/>
<line x1="75.47" y1="266.7" x2="75.47" y2="269.6" stroke="#000" stroke-width="1.0" stroke-linecap="butt"/>
<line x1="76.53" y1="266.7" x2="76.53" y2="269.6" stroke="#000" stroke-width="1.0" stroke-linecap="butt"/>
<line x1="77.6" y1="266.7" x2="77.6" y2="269.6" stroke="#000" stroke-width="1.0" stroke-linecap="butt"/>
<line x1="78.7" y1="266.7" x2="78.7" y2="269.6" stroke="#000" stroke-width="1.0" stroke-linecap="butt"/>
<line x1="81" y1="266.7" x2="81" y2="269.6" stroke="#000" stroke-width="1.0" stroke-linecap="butt"/>
<line x1="82.7" y1="266.7" x2="82.7" y2="269.6" stroke="#000" stroke-width="1.0" stroke-linecap="butt"/>
<line x1="83.8" y1="266.7" x2="83.8" y2="269.6" stroke="#000" stroke-width="1.0" stroke-linecap="butt"/>
<line x1="84.9" y1="266.7" x2="84.9" y2="269.6" stroke="#000" stroke-width="1.0" stroke-linecap="butt"/>
<line x1="86.6" y1="266.7" x2="86.6" y2="269.6" stroke="#000" stroke-width="1.0" stroke-linecap="butt"/>
<line x1="87.75" y1="266.7" x2="87.75" y2="269.6" stroke="#000" stroke-width="1.0" stroke-linecap="butt"/>
<line x1="88.9" y1="266.7" x2="88.9" y2="269.6" stroke="#000" stroke-width="1.0" stroke-linecap="butt"/>
<line x1="91.7" y1="266.7" x2="91.7" y2="269.6" stroke="#000" stroke-width="1.0" stroke-linecap="butt"/>
<line x1="99" y1="266.7" x2="99" y2="269.6" stroke="#000" stroke-width="1.0" stroke-linecap="butt"/>
<line x1="100.7" y1="266.7" x2="100.7" y2="269.6" stroke="#000" stroke-width="1.0" stroke-linecap="butt"/>
<line x1="102.4" y1="266.7" x2="102.4" y2="269.6" stroke="#000" stroke-width="1.0" stroke-linecap="butt"/>
<line x1="108.1" y1="266.7" x2="108.1" y2="269.6" stroke="#000" stroke-width="1.0" stroke-linecap="butt"/>
<line x1="113.7" y1="266.7" x2="113.7" y2="269.6" stroke="#000" stroke-width="1.0" stroke-linecap="butt"/>
<line x1="125" y1="266.7" x2="125" y2="269.6" stroke="#000" stroke-width="1.0" stroke-linecap="butt"/>
<line x1="140.2" y1="266.7" x2="140.2" y2="269.6" stroke="#000" stroke-width="1.0" stroke-linecap="butt"/>
<line x1="47.5" y1="217.5" x2="143.8" y2="217.5" stroke="#ff0000" stroke-width="1.6" stroke-linecap="butt" stroke-dasharray="5.2 5.6"/>
<text x="98" y="187" text-anchor="middle" font-size="14.3">p=.07*</text>
<rect x="48" y="165" width="95.8" height="104.6" fill="none" stroke="#000" stroke-width="1.5"/>
<path d="M197.9,207 C198.7,207.73 201.17,210.3 202.7,211.4 C204.23,212.5 204.92,213.13 207.1,213.6 C209.28,214.07 212.52,214.07 215.8,214.2 C219.08,214.33 223.6,214.37 226.8,214.4 C230,214.43 233.13,214.72 235,214.4 C236.87,214.08 237,213.45 238,212.5 C239,211.55 240.17,209.82 241,208.7 C241.83,207.58 242.33,206.5 243,205.8 C243.67,205.1 243.83,204.7 245,204.5 C246.17,204.3 248.67,204.75 250,204.6 C251.33,204.45 252,204.17 253,203.6 C254,203.03 255,202.12 256,201.2 C257,200.28 258,199.03 259,198.1 C260,197.17 260.88,196.52 262,195.6 C263.12,194.68 264.37,193.92 265.7,192.6 C267.03,191.28 268.72,189.95 270,187.7 C271.28,185.45 272.55,182.25 273.4,179.1 C274.25,175.95 274.67,171.15 275.1,168.8 C275.53,166.45 274,165.63 276,165 C278,164.37 285.25,165 287.1,165 L287.1,268.8 C286.82,268.02 286.17,266.82 285.4,264.1 C284.63,261.38 283.47,256.37 282.5,252.5 C281.53,248.63 280.57,244.45 279.6,240.9 C278.63,237.35 277.67,233.93 276.7,231.2 C275.73,228.47 274.93,225.83 273.8,224.5 C272.67,223.17 271.35,223.48 269.9,223.2 C268.45,222.92 266.42,222.92 265.1,222.8 C263.78,222.68 263.18,222.52 262,222.5 C260.82,222.48 259.17,222.5 258,222.7 C256.83,222.9 256,223.42 255,223.7 C254,223.98 253.33,224.25 252,224.4 C250.67,224.55 248.5,224.3 247,224.6 C245.5,224.9 244.17,225.52 243,226.2 C241.83,226.88 241.33,227.87 240,228.7 C238.67,229.53 237.2,230.4 235,231.2 C232.8,232 230,232.8 226.8,233.5 C223.6,234.2 219.08,234.35 215.8,235.4 C212.52,236.45 209.28,238.35 207.1,239.8 C204.92,241.25 204.23,242.55 202.7,244.1 C201.17,245.65 198.7,248.27 197.9,249.1 Z" fill="#cccccc"/>
<line x1="185.85" y1="178.7" x2="195.05" y2="178.7" stroke="#000" stroke-width="1.5" stroke-linecap="butt"/>
<line x1="185.85" y1="198.1" x2="195.05" y2="198.1" stroke="#000" stroke-width="1.5" stroke-linecap="butt"/>
<line x1="185.85" y1="217.5" x2="195.05" y2="217.5" stroke="#000" stroke-width="1.5" stroke-linecap="butt"/>
<line x1="185.85" y1="236.9" x2="195.05" y2="236.9" stroke="#000" stroke-width="1.5" stroke-linecap="butt"/>
<line x1="185.85" y1="256.3" x2="195.05" y2="256.3" stroke="#000" stroke-width="1.5" stroke-linecap="butt"/>
<text transform="translate(175.25,178.7) rotate(-90)" text-anchor="middle" font-size="14.3">0.4</text>
<text transform="translate(175.25,217.5) rotate(-90)" text-anchor="middle" font-size="14.3">0.0</text>
<text transform="translate(175.25,256.3) rotate(-90)" text-anchor="middle" font-size="14.3">−0.4</text>
<line x1="198.6" y1="269.6" x2="198.6" y2="278.8" stroke="#000" stroke-width="1.5" stroke-linecap="butt"/>
<line x1="214.1" y1="269.6" x2="214.1" y2="278.8" stroke="#000" stroke-width="1.5" stroke-linecap="butt"/>
<line x1="229.5" y1="269.6" x2="229.5" y2="278.8" stroke="#000" stroke-width="1.5" stroke-linecap="butt"/>
<line x1="244.9" y1="269.6" x2="244.9" y2="278.8" stroke="#000" stroke-width="1.5" stroke-linecap="butt"/>
<line x1="260.3" y1="269.6" x2="260.3" y2="278.8" stroke="#000" stroke-width="1.5" stroke-linecap="butt"/>
<line x1="275.7" y1="269.6" x2="275.7" y2="278.8" stroke="#000" stroke-width="1.5" stroke-linecap="butt"/>
<text x="198.6" y="300.5" text-anchor="middle" font-size="14.3">0.0</text>
<text x="244.9" y="300.5" text-anchor="middle" font-size="14.3">0.3</text>
<text x="242.95" y="317.4" text-anchor="middle" font-size="14.3">Soil clay %</text>
<path d="M197.9,228.2 C198.7,227.95 201.17,227.13 202.7,226.7 C204.23,226.27 204.92,225.97 207.1,225.6 C209.28,225.23 212.52,224.72 215.8,224.5 C219.08,224.28 224.27,224.3 226.8,224.3 C229.33,224.3 229.63,224.6 231,224.5 C232.37,224.4 233.83,224.13 235,223.7 C236.17,223.27 237,222.73 238,221.9 C239,221.07 240,219.75 241,218.7 C242,217.65 243,216.32 244,215.6 C245,214.88 246,214.55 247,214.4 C248,214.25 249,214.62 250,214.7 C251,214.78 252,215.1 253,214.9 C254,214.7 255,214.18 256,213.5 C257,212.82 258,211.58 259,210.8 C260,210.02 261,209.37 262,208.8 C263,208.23 263.95,207.93 265,207.4 C266.05,206.87 267.05,206.6 268.3,205.6 C269.55,204.6 271.08,203.25 272.5,201.4 C273.92,199.55 275.37,196.78 276.8,194.5 C278.23,192.22 279.75,189.98 281.1,187.7 C282.45,185.42 283.82,182.75 284.9,180.8 C285.98,178.85 287.15,176.8 287.6,176" fill="none" stroke="#000" stroke-width="1.45" stroke-linejoin="round"/>
<line x1="198.6" y1="266.7" x2="198.6" y2="269.6" stroke="#000" stroke-width="1.0" stroke-linecap="butt"/>
<line x1="200.3" y1="266.7" x2="200.3" y2="269.6" stroke="#000" stroke-width="1.0" stroke-linecap="butt"/>
<line x1="202" y1="266.7" x2="202" y2="269.6" stroke="#000" stroke-width="1.0" stroke-linecap="butt"/>
<line x1="203.7" y1="266.7" x2="203.7" y2="269.6" stroke="#000" stroke-width="1.0" stroke-linecap="butt"/>
<line x1="208.2" y1="266.7" x2="208.2" y2="269.6" stroke="#000" stroke-width="1.0" stroke-linecap="butt"/>
<line x1="209.35" y1="266.7" x2="209.35" y2="269.6" stroke="#000" stroke-width="1.0" stroke-linecap="butt"/>
<line x1="210.5" y1="266.7" x2="210.5" y2="269.6" stroke="#000" stroke-width="1.0" stroke-linecap="butt"/>
<line x1="211.65" y1="266.7" x2="211.65" y2="269.6" stroke="#000" stroke-width="1.0" stroke-linecap="butt"/>
<line x1="212.8" y1="266.7" x2="212.8" y2="269.6" stroke="#000" stroke-width="1.0" stroke-linecap="butt"/>
<line x1="216.1" y1="266.7" x2="216.1" y2="269.6" stroke="#000" stroke-width="1.0" stroke-linecap="butt"/>
<line x1="217.8" y1="266.7" x2="217.8" y2="269.6" stroke="#000" stroke-width="1.0" stroke-linecap="butt"/>
<line x1="220.7" y1="266.7" x2="220.7" y2="269.6" stroke="#000" stroke-width="1.0" stroke-linecap="butt"/>
<line x1="222.9" y1="266.7" x2="222.9" y2="269.6" stroke="#000" stroke-width="1.0" stroke-linecap="butt"/>
<line x1="226.3" y1="266.7" x2="226.3" y2="269.6" stroke="#000" stroke-width="1.0" stroke-linecap="butt"/>
<line x1="231.4" y1="266.7" x2="231.4" y2="269.6" stroke="#000" stroke-width="1.0" stroke-linecap="butt"/>
<line x1="233.1" y1="266.7" x2="233.1" y2="269.6" stroke="#000" stroke-width="1.0" stroke-linecap="butt"/>
<line x1="237" y1="266.7" x2="237" y2="269.6" stroke="#000" stroke-width="1.0" stroke-linecap="butt"/>
<line x1="238.13" y1="266.7" x2="238.13" y2="269.6" stroke="#000" stroke-width="1.0" stroke-linecap="butt"/>
<line x1="239.26" y1="266.7" x2="239.26" y2="269.6" stroke="#000" stroke-width="1.0" stroke-linecap="butt"/>
<line x1="240.39" y1="266.7" x2="240.39" y2="269.6" stroke="#000" stroke-width="1.0" stroke-linecap="butt"/>
<line x1="241.51" y1="266.7" x2="241.51" y2="269.6" stroke="#000" stroke-width="1.0" stroke-linecap="butt"/>
<line x1="242.64" y1="266.7" x2="242.64" y2="269.6" stroke="#000" stroke-width="1.0" stroke-linecap="butt"/>
<line x1="243.77" y1="266.7" x2="243.77" y2="269.6" stroke="#000" stroke-width="1.0" stroke-linecap="butt"/>
<line x1="244.9" y1="266.7" x2="244.9" y2="269.6" stroke="#000" stroke-width="1.0" stroke-linecap="butt"/>
<line x1="249.4" y1="266.7" x2="249.4" y2="269.6" stroke="#000" stroke-width="1.0" stroke-linecap="butt"/>
<line x1="250.6" y1="266.7" x2="250.6" y2="269.6" stroke="#000" stroke-width="1.0" stroke-linecap="butt"/>
<line x1="252.3" y1="266.7" x2="252.3" y2="269.6" stroke="#000" stroke-width="1.0" stroke-linecap="butt"/>
<line x1="254.5" y1="266.7" x2="254.5" y2="269.6" stroke="#000" stroke-width="1.0" stroke-linecap="butt"/>
<line x1="255.83" y1="266.7" x2="255.83" y2="269.6" stroke="#000" stroke-width="1.0" stroke-linecap="butt"/>
<line x1="257.17" y1="266.7" x2="257.17" y2="269.6" stroke="#000" stroke-width="1.0" stroke-linecap="butt"/>
<line x1="258.5" y1="266.7" x2="258.5" y2="269.6" stroke="#000" stroke-width="1.0" stroke-linecap="butt"/>
<line x1="260.7" y1="266.7" x2="260.7" y2="269.6" stroke="#000" stroke-width="1.0" stroke-linecap="butt"/>
<line x1="262.4" y1="266.7" x2="262.4" y2="269.6" stroke="#000" stroke-width="1.0" stroke-linecap="butt"/>
<line x1="263.62" y1="266.7" x2="263.62" y2="269.6" stroke="#000" stroke-width="1.0" stroke-linecap="butt"/>
<line x1="264.83" y1="266.7" x2="264.83" y2="269.6" stroke="#000" stroke-width="1.0" stroke-linecap="butt"/>
<line x1="266.05" y1="266.7" x2="266.05" y2="269.6" stroke="#000" stroke-width="1.0" stroke-linecap="butt"/>
<line x1="267.27" y1="266.7" x2="267.27" y2="269.6" stroke="#000" stroke-width="1.0" stroke-linecap="butt"/>
<line x1="268.48" y1="266.7" x2="268.48" y2="269.6" stroke="#000" stroke-width="1.0" stroke-linecap="butt"/>
<line x1="269.7" y1="266.7" x2="269.7" y2="269.6" stroke="#000" stroke-width="1.0" stroke-linecap="butt"/>
<line x1="271.4" y1="266.7" x2="271.4" y2="269.6" stroke="#000" stroke-width="1.0" stroke-linecap="butt"/>
<line x1="273.1" y1="266.7" x2="273.1" y2="269.6" stroke="#000" stroke-width="1.0" stroke-linecap="butt"/>
<line x1="277.6" y1="266.7" x2="277.6" y2="269.6" stroke="#000" stroke-width="1.0" stroke-linecap="butt"/>
<line x1="284.4" y1="266.7" x2="284.4" y2="269.6" stroke="#000" stroke-width="1.0" stroke-linecap="butt"/>
<line x1="286.1" y1="266.7" x2="286.1" y2="269.6" stroke="#000" stroke-width="1.0" stroke-linecap="butt"/>
<line x1="194.55" y1="217.5" x2="290.85" y2="217.5" stroke="#ff0000" stroke-width="1.6" stroke-linecap="butt" stroke-dasharray="5.2 5.6"/>
<text x="240.45" y="187" text-anchor="middle" font-size="14.3">p=.40</text>
<rect x="195.05" y="165" width="95.8" height="104.6" fill="none" stroke="#000" stroke-width="1.5"/>
<line x1="332.9" y1="166.55" x2="342.1" y2="166.55" stroke="#000" stroke-width="1.5" stroke-linecap="butt"/>
<line x1="332.9" y1="181.8" x2="342.1" y2="181.8" stroke="#000" stroke-width="1.5" stroke-linecap="butt"/>
<line x1="332.9" y1="197.05" x2="342.1" y2="197.05" stroke="#000" stroke-width="1.5" stroke-linecap="butt"/>
<line x1="332.9" y1="212.3" x2="342.1" y2="212.3" stroke="#000" stroke-width="1.5" stroke-linecap="butt"/>
<line x1="332.9" y1="227.55" x2="342.1" y2="227.55" stroke="#000" stroke-width="1.5" stroke-linecap="butt"/>
<line x1="332.9" y1="242.8" x2="342.1" y2="242.8" stroke="#000" stroke-width="1.5" stroke-linecap="butt"/>
<line x1="332.9" y1="258.05" x2="342.1" y2="258.05" stroke="#000" stroke-width="1.5" stroke-linecap="butt"/>
<text transform="translate(322.3,166.55) rotate(-90)" text-anchor="middle" font-size="14.3">0.25</text>
<text transform="translate(322.3,212.3) rotate(-90)" text-anchor="middle" font-size="14.3">0.10</text>
<text transform="translate(322.3,258.05) rotate(-90)" text-anchor="middle" font-size="14.3">−0.05</text>
<text x="361.9" y="284.7" text-anchor="middle" font-size="13.5" style="stroke-width:0.45px">1</text>
<text x="382.2" y="284.7" text-anchor="middle" font-size="13.5" style="stroke-width:0.45px">2</text>
<text x="403.2" y="284.7" text-anchor="middle" font-size="13.5" style="stroke-width:0.45px">3</text>
<text x="423.6" y="284.7" text-anchor="middle" font-size="13.5" style="stroke-width:0.45px">4</text>
<text x="390" y="317.4" text-anchor="middle" font-size="14.3">Season</text>
<line x1="352.6" y1="242.8" x2="370.5" y2="242.8" stroke="#000" stroke-width="2.0" stroke-linecap="butt"/>
<line x1="372.9" y1="221.7" x2="390.5" y2="221.7" stroke="#000" stroke-width="2.0" stroke-linecap="butt"/>
<line x1="372.9" y1="207.2" x2="388.5" y2="207.2" stroke="#0000ff" stroke-width="1.55" stroke-linecap="butt" stroke-dasharray="5.2 5.6"/>
<line x1="372.9" y1="237.2" x2="388.5" y2="237.2" stroke="#0000ff" stroke-width="1.55" stroke-linecap="butt" stroke-dasharray="5.2 5.6"/>
<line x1="393" y1="227.3" x2="410.8" y2="227.3" stroke="#000" stroke-width="2.0" stroke-linecap="butt"/>
<line x1="393" y1="195.9" x2="408.8" y2="195.9" stroke="#0000ff" stroke-width="1.55" stroke-linecap="butt" stroke-dasharray="5.2 5.6"/>
<line x1="393" y1="258.2" x2="408.8" y2="258.2" stroke="#0000ff" stroke-width="1.55" stroke-linecap="butt" stroke-dasharray="5.2 5.6"/>
<line x1="412.9" y1="207.3" x2="430.8" y2="207.3" stroke="#000" stroke-width="2.0" stroke-linecap="butt"/>
<line x1="412.9" y1="170.7" x2="428.8" y2="170.7" stroke="#0000ff" stroke-width="1.55" stroke-linecap="butt" stroke-dasharray="5.2 5.6"/>
<line x1="412.9" y1="244.2" x2="428.8" y2="244.2" stroke="#0000ff" stroke-width="1.55" stroke-linecap="butt" stroke-dasharray="5.2 5.6"/>
<rect x="357" y="260.5" width="8.9" height="6.1" fill="#000"/>
<rect x="377.2" y="260.5" width="8.8" height="6.1" fill="#000"/>
<rect x="398" y="260.5" width="7.9" height="6.1" fill="#000"/>
<rect x="417.4" y="260.5" width="8.9" height="6.1" fill="#000"/>
<line x1="341.6" y1="242.8" x2="437.9" y2="242.8" stroke="#ff0000" stroke-width="1.6" stroke-linecap="butt" stroke-dasharray="5.2 5.6"/>
<rect x="342.1" y="165" width="95.8" height="104.6" fill="none" stroke="#000" stroke-width="1.5"/>
<line x1="479.95" y1="174.15" x2="489.15" y2="174.15" stroke="#000" stroke-width="1.5" stroke-linecap="butt"/>
<line x1="479.95" y1="190.6" x2="489.15" y2="190.6" stroke="#000" stroke-width="1.5" stroke-linecap="butt"/>
<line x1="479.95" y1="207.05" x2="489.15" y2="207.05" stroke="#000" stroke-width="1.5" stroke-linecap="butt"/>
<line x1="479.95" y1="223.5" x2="489.15" y2="223.5" stroke="#000" stroke-width="1.5" stroke-linecap="butt"/>
<line x1="479.95" y1="239.95" x2="489.15" y2="239.95" stroke="#000" stroke-width="1.5" stroke-linecap="butt"/>
<line x1="479.95" y1="256.4" x2="489.15" y2="256.4" stroke="#000" stroke-width="1.5" stroke-linecap="butt"/>
<text transform="translate(469.35,174.15) rotate(-90)" text-anchor="middle" font-size="14.3">1.5</text>
<text transform="translate(469.35,207.05) rotate(-90)" text-anchor="middle" font-size="14.3">0.5</text>
<text transform="translate(469.35,256.4) rotate(-90)" text-anchor="middle" font-size="14.3">−1.0</text>
<text x="537.05" y="317.4" text-anchor="middle" font-size="14.3">Crop</text>
<line x1="498.3" y1="223.5" x2="505" y2="223.5" stroke="#000" stroke-width="2.0" stroke-linecap="butt"/>
<line x1="498.3" y1="223.5" x2="503" y2="223.5" stroke="#0000ff" stroke-width="1.55" stroke-linecap="butt" stroke-dasharray="5.2 5.6"/>
<line x1="505.02" y1="207.4" x2="511.72" y2="207.4" stroke="#000" stroke-width="2.0" stroke-linecap="butt"/>
<line x1="505.02" y1="174.4" x2="509.72" y2="174.4" stroke="#0000ff" stroke-width="1.55" stroke-linecap="butt" stroke-dasharray="5.2 5.6"/>
<line x1="505.02" y1="240.6" x2="509.72" y2="240.6" stroke="#0000ff" stroke-width="1.55" stroke-linecap="butt" stroke-dasharray="5.2 5.6"/>
<line x1="511.74" y1="224" x2="518.44" y2="224" stroke="#000" stroke-width="2.0" stroke-linecap="butt"/>
<line x1="511.74" y1="189.9" x2="516.44" y2="189.9" stroke="#0000ff" stroke-width="1.55" stroke-linecap="butt" stroke-dasharray="5.2 5.6"/>
<line x1="511.74" y1="257.8" x2="516.44" y2="257.8" stroke="#0000ff" stroke-width="1.55" stroke-linecap="butt" stroke-dasharray="5.2 5.6"/>
<line x1="518.46" y1="219.2" x2="525.16" y2="219.2" stroke="#000" stroke-width="2.0" stroke-linecap="butt"/>
<line x1="518.46" y1="188.7" x2="523.16" y2="188.7" stroke="#0000ff" stroke-width="1.55" stroke-linecap="butt" stroke-dasharray="5.2 5.6"/>
<line x1="518.46" y1="249.8" x2="523.16" y2="249.8" stroke="#0000ff" stroke-width="1.55" stroke-linecap="butt" stroke-dasharray="5.2 5.6"/>
<line x1="525.18" y1="220.1" x2="531.88" y2="220.1" stroke="#000" stroke-width="2.0" stroke-linecap="butt"/>
<line x1="525.18" y1="189" x2="529.88" y2="189" stroke="#0000ff" stroke-width="1.55" stroke-linecap="butt" stroke-dasharray="5.2 5.6"/>
<line x1="525.18" y1="250.9" x2="529.88" y2="250.9" stroke="#0000ff" stroke-width="1.55" stroke-linecap="butt" stroke-dasharray="5.2 5.6"/>
<line x1="531.9" y1="217.5" x2="538.6" y2="217.5" stroke="#000" stroke-width="2.0" stroke-linecap="butt"/>
<line x1="531.9" y1="184.2" x2="536.6" y2="184.2" stroke="#0000ff" stroke-width="1.55" stroke-linecap="butt" stroke-dasharray="5.2 5.6"/>
<line x1="531.9" y1="251" x2="536.6" y2="251" stroke="#0000ff" stroke-width="1.55" stroke-linecap="butt" stroke-dasharray="5.2 5.6"/>
<line x1="538.62" y1="219.7" x2="545.32" y2="219.7" stroke="#000" stroke-width="2.0" stroke-linecap="butt"/>
<line x1="538.62" y1="189.9" x2="543.32" y2="189.9" stroke="#0000ff" stroke-width="1.55" stroke-linecap="butt" stroke-dasharray="5.2 5.6"/>
<line x1="538.62" y1="250.3" x2="543.32" y2="250.3" stroke="#0000ff" stroke-width="1.55" stroke-linecap="butt" stroke-dasharray="5.2 5.6"/>
<line x1="545.34" y1="210.4" x2="552.04" y2="210.4" stroke="#000" stroke-width="2.0" stroke-linecap="butt"/>
<line x1="545.34" y1="171" x2="550.04" y2="171" stroke="#0000ff" stroke-width="1.55" stroke-linecap="butt" stroke-dasharray="5.2 5.6"/>
<line x1="545.34" y1="250.1" x2="550.04" y2="250.1" stroke="#0000ff" stroke-width="1.55" stroke-linecap="butt" stroke-dasharray="5.2 5.6"/>
<line x1="552.06" y1="217.5" x2="558.76" y2="217.5" stroke="#000" stroke-width="2.0" stroke-linecap="butt"/>
<line x1="552.06" y1="184.4" x2="556.76" y2="184.4" stroke="#0000ff" stroke-width="1.55" stroke-linecap="butt" stroke-dasharray="5.2 5.6"/>
<line x1="552.06" y1="250.8" x2="556.76" y2="250.8" stroke="#0000ff" stroke-width="1.55" stroke-linecap="butt" stroke-dasharray="5.2 5.6"/>
<line x1="558.78" y1="218.9" x2="565.48" y2="218.9" stroke="#000" stroke-width="2.0" stroke-linecap="butt"/>
<line x1="558.78" y1="185.6" x2="563.48" y2="185.6" stroke="#0000ff" stroke-width="1.55" stroke-linecap="butt" stroke-dasharray="5.2 5.6"/>
<line x1="558.78" y1="252.3" x2="563.48" y2="252.3" stroke="#0000ff" stroke-width="1.55" stroke-linecap="butt" stroke-dasharray="5.2 5.6"/>
<line x1="565.5" y1="221.4" x2="572.2" y2="221.4" stroke="#000" stroke-width="2.0" stroke-linecap="butt"/>
<line x1="565.5" y1="189.9" x2="570.2" y2="189.9" stroke="#0000ff" stroke-width="1.55" stroke-linecap="butt" stroke-dasharray="5.2 5.6"/>
<line x1="565.5" y1="253.7" x2="570.2" y2="253.7" stroke="#0000ff" stroke-width="1.55" stroke-linecap="butt" stroke-dasharray="5.2 5.6"/>
<line x1="572.22" y1="219.4" x2="578.92" y2="219.4" stroke="#000" stroke-width="2.0" stroke-linecap="butt"/>
<line x1="572.22" y1="189.4" x2="576.92" y2="189.4" stroke="#0000ff" stroke-width="1.55" stroke-linecap="butt" stroke-dasharray="5.2 5.6"/>
<line x1="572.22" y1="249.7" x2="576.92" y2="249.7" stroke="#0000ff" stroke-width="1.55" stroke-linecap="butt" stroke-dasharray="5.2 5.6"/>
<rect x="500.4" y="260.7" width="3.4" height="6" fill="#000"/>
<rect x="507.9" y="260.7" width="2.3" height="6" fill="#000"/>
<rect x="513.6" y="260.7" width="3.4" height="6" fill="#000"/>
<rect x="519.9" y="260.7" width="4" height="6" fill="#000"/>
<rect x="527" y="260.7" width="2.9" height="6" fill="#000"/>
<rect x="533.7" y="260.7" width="2.5" height="6" fill="#000"/>
<rect x="540.1" y="260.7" width="3.1" height="6" fill="#000"/>
<rect x="548.7" y="260.7" width="1.2" height="6" fill="#000"/>
<rect x="553.5" y="260.7" width="3.5" height="6" fill="#000"/>
<rect x="561.6" y="260.7" width="1.2" height="6" fill="#000"/>
<rect x="566.9" y="260.7" width="3.3" height="6" fill="#000"/>
<rect x="573.6" y="260.7" width="3.9" height="6" fill="#000"/>
<line x1="488.65" y1="223.5" x2="584.95" y2="223.5" stroke="#ff0000" stroke-width="1.6" stroke-linecap="butt" stroke-dasharray="5.2 5.6"/>
<rect x="489.15" y="165" width="95.8" height="104.6" fill="none" stroke="#000" stroke-width="1.5"/>
<line x1="627" y1="171.1" x2="636.2" y2="171.1" stroke="#000" stroke-width="1.5" stroke-linecap="butt"/>
<line x1="627" y1="186.2" x2="636.2" y2="186.2" stroke="#000" stroke-width="1.5" stroke-linecap="butt"/>
<line x1="627" y1="201.3" x2="636.2" y2="201.3" stroke="#000" stroke-width="1.5" stroke-linecap="butt"/>
<line x1="627" y1="216.4" x2="636.2" y2="216.4" stroke="#000" stroke-width="1.5" stroke-linecap="butt"/>
<line x1="627" y1="231.5" x2="636.2" y2="231.5" stroke="#000" stroke-width="1.5" stroke-linecap="butt"/>
<line x1="627" y1="246.6" x2="636.2" y2="246.6" stroke="#000" stroke-width="1.5" stroke-linecap="butt"/>
<line x1="627" y1="261.7" x2="636.2" y2="261.7" stroke="#000" stroke-width="1.5" stroke-linecap="butt"/>
<text transform="translate(616.4,171.1) rotate(-90)" text-anchor="middle" font-size="14.3">0.2</text>
<text transform="translate(616.4,216.4) rotate(-90)" text-anchor="middle" font-size="14.3">−0.1</text>
<text transform="translate(616.4,261.7) rotate(-90)" text-anchor="middle" font-size="14.3">−0.4</text>
<text x="658.7" y="284" text-anchor="middle" font-size="13.5" style="stroke-width:0.45px">M</text>
<text x="686.3" y="284" text-anchor="middle" font-size="13.5" style="stroke-width:0.45px">N-W</text>
<text x="713.8" y="284" text-anchor="middle" font-size="13.5" style="stroke-width:0.45px">W</text>
<text x="684.1" y="317.4" text-anchor="middle" font-size="14.3">Feedstock</text>
<line x1="647.7" y1="201.4" x2="669.5" y2="201.4" stroke="#000" stroke-width="2.0" stroke-linecap="butt"/>
<line x1="647.7" y1="201.4" x2="667.5" y2="201.4" stroke="#0000ff" stroke-width="1.55" stroke-linecap="butt" stroke-dasharray="5.2 5.6"/>
<line x1="674.3" y1="214.2" x2="697.5" y2="214.2" stroke="#000" stroke-width="2.0" stroke-linecap="butt"/>
<line x1="674.3" y1="176.1" x2="695.5" y2="176.1" stroke="#0000ff" stroke-width="1.55" stroke-linecap="butt" stroke-dasharray="5.2 5.6"/>
<line x1="674.3" y1="252.3" x2="695.5" y2="252.3" stroke="#0000ff" stroke-width="1.55" stroke-linecap="butt" stroke-dasharray="5.2 5.6"/>
<line x1="701.2" y1="214.4" x2="724.6" y2="214.4" stroke="#000" stroke-width="2.0" stroke-linecap="butt"/>
<line x1="701.2" y1="171" x2="722.6" y2="171" stroke="#0000ff" stroke-width="1.55" stroke-linecap="butt" stroke-dasharray="5.2 5.6"/>
<line x1="701.2" y1="257.5" x2="722.6" y2="257.5" stroke="#0000ff" stroke-width="1.55" stroke-linecap="butt" stroke-dasharray="5.2 5.6"/>
<rect x="653.7" y="260.2" width="11.2" height="6.4" fill="#000"/>
<rect x="680" y="260.2" width="12" height="6.4" fill="#000"/>
<rect x="706.9" y="260.2" width="11.7" height="6.4" fill="#000"/>
<line x1="635.7" y1="201.3" x2="732" y2="201.3" stroke="#ff0000" stroke-width="1.6" stroke-linecap="butt" stroke-dasharray="5.2 5.6"/>
<rect x="636.2" y="165" width="95.8" height="104.6" fill="none" stroke="#000" stroke-width="1.5"/>
<line x1="774.05" y1="174.12" x2="783.25" y2="174.12" stroke="#000" stroke-width="1.5" stroke-linecap="butt"/>
<line x1="774.05" y1="188.84" x2="783.25" y2="188.84" stroke="#000" stroke-width="1.5" stroke-linecap="butt"/>
<line x1="774.05" y1="203.56" x2="783.25" y2="203.56" stroke="#000" stroke-width="1.5" stroke-linecap="butt"/>
<line x1="774.05" y1="218.28" x2="783.25" y2="218.28" stroke="#000" stroke-width="1.5" stroke-linecap="butt"/>
<line x1="774.05" y1="233" x2="783.25" y2="233" stroke="#000" stroke-width="1.5" stroke-linecap="butt"/>
<line x1="774.05" y1="247.72" x2="783.25" y2="247.72" stroke="#000" stroke-width="1.5" stroke-linecap="butt"/>
<line x1="774.05" y1="262.44" x2="783.25" y2="262.44" stroke="#000" stroke-width="1.5" stroke-linecap="butt"/>
<text transform="translate(763.45,203.56) rotate(-90)" text-anchor="middle" font-size="14.3">0.10</text>
<text transform="translate(763.45,262.44) rotate(-90)" text-anchor="middle" font-size="14.3">−0.10</text>
<text x="817" y="284" text-anchor="middle" font-size="13.5" style="stroke-width:0.45px">Field</text>
<text x="854.1" y="284" text-anchor="middle" font-size="13.5" style="stroke-width:0.45px">GH</text>
<text x="829.15" y="315.9" text-anchor="middle" font-size="14.3">Field/Greenhouse</text>
<line x1="795.6" y1="233" x2="829.7" y2="233" stroke="#000" stroke-width="2.0" stroke-linecap="butt"/>
<line x1="795.6" y1="233" x2="827.7" y2="233" stroke="#0000ff" stroke-width="1.55" stroke-linecap="butt" stroke-dasharray="5.2 5.6"/>
<line x1="836.1" y1="214.4" x2="870.2" y2="214.4" stroke="#000" stroke-width="2.0" stroke-linecap="butt"/>
<line x1="836.1" y1="171" x2="868.2" y2="171" stroke="#0000ff" stroke-width="1.55" stroke-linecap="butt" stroke-dasharray="5.2 5.6"/>
<line x1="836.1" y1="257.5" x2="868.2" y2="257.5" stroke="#0000ff" stroke-width="1.55" stroke-linecap="butt" stroke-dasharray="5.2 5.6"/>
<rect x="804.3" y="260.3" width="17.1" height="6.2" fill="#000"/>
<rect x="845" y="260.3" width="16.7" height="6.2" fill="#000"/>
<line x1="782.75" y1="233" x2="879.05" y2="233" stroke="#ff0000" stroke-width="1.6" stroke-linecap="butt" stroke-dasharray="5.2 5.6"/>
<rect x="783.25" y="165" width="95.8" height="104.6" fill="none" stroke="#000" stroke-width="1.5"/>
<text transform="translate(10.8,217.3) rotate(-90)" text-anchor="middle" font-size="14.3">Response Ratio</text>
</svg>
</body></html>
